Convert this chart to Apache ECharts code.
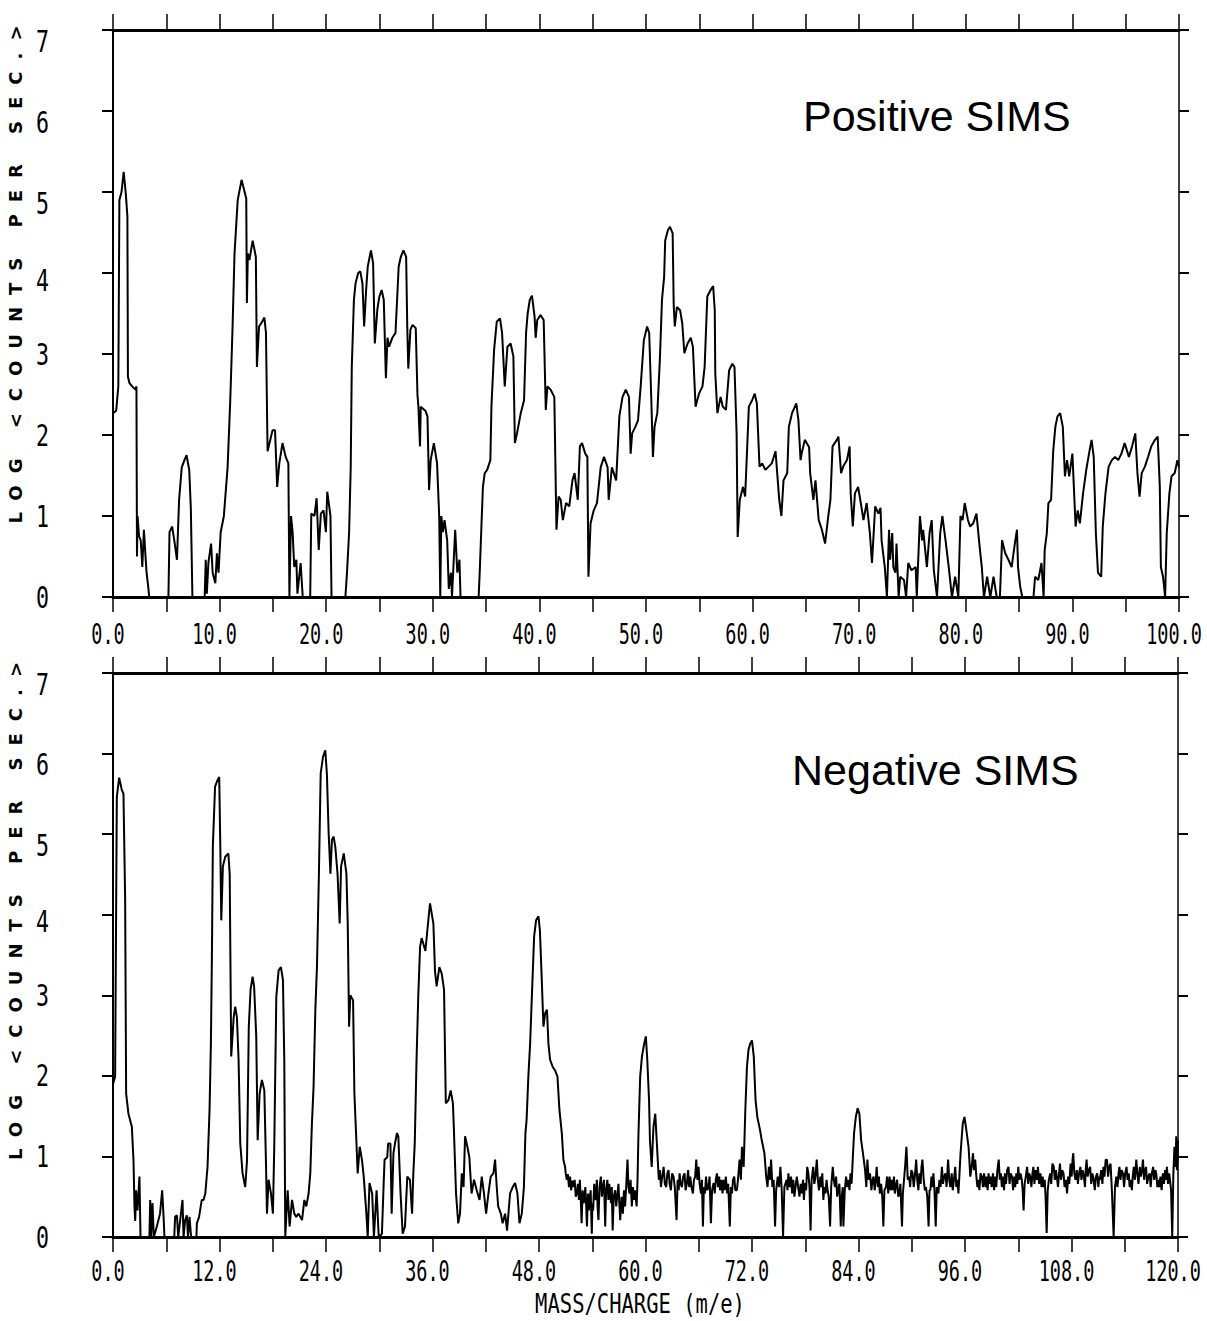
<!DOCTYPE html>
<html>
<head>
<meta charset="utf-8">
<title>Positive / Negative SIMS</title>
<script src="https://cdn.jsdelivr.net/npm/echarts@6/dist/echarts.min.js"></script>
<style>
  html, body { margin: 0; padding: 0; background: #fff; overflow: hidden; }
  #chart { width: 1207px; height: 1321px; }
  /* plotter-style spaced lettering for the vertical axis titles */
  #chart text[style*="Verdana"], #chart text[font-family*="Verdana"] { letter-spacing: 12px; }
</style>
</head>
<body>
<div id="chart"></div>
<script>
// Positive SIMS spectrum: [mass/charge, log10(counts per second)]
const positiveSpectrum = [
  [0,2.27],[0.3,2.3],[0.5,2.6],[0.6,4.9],[0.8,5.0],[1.0,5.25],[1.2,4.98],[1.35,4.7],[1.4,2.72],[1.55,2.64],
  [1.8,2.6],[2.1,2.56],[2.2,2.6],[2.25,0.5],[2.3,1.0],[2.45,0.75],[2.6,0.7],[2.75,0.37],[2.9,0.83],[3.05,0.5],
  [3.15,0.3],[3.3,0.13],[3.4,0],[5.2,0],[5.3,0.8],[5.55,0.87],[5.75,0.7],[6.0,0.46],[6.2,1.2],[6.45,1.6],
  [6.7,1.69],[6.9,1.75],[7.15,1.57],[7.3,1.1],[7.45,0],[8.6,0],[8.7,0.46],[8.8,0.04],[8.95,0.42],[9.2,0.66],
  [9.35,0.3],[9.6,0.17],[9.75,0.54],[9.9,0.3],[10.1,0.8],[10.4,1.0],[10.75,1.6],[11.0,2.43],[11.2,3.26],[11.4,4.24],
  [11.7,4.9],[12.06,5.15],[12.5,4.92],[12.56,3.63],[12.65,4.24],[12.8,4.16],[13.1,4.4],[13.4,4.2],[13.5,2.84],[13.7,3.34],
  [14.0,3.4],[14.2,3.45],[14.35,3.26],[14.5,1.8],[14.97,2.06],[15.2,2.06],[15.4,1.36],[15.6,1.65],[15.9,1.9],[16.2,1.73],
  [16.45,1.65],[16.55,0],[16.7,1.0],[16.85,0.8],[17.0,0.37],[17.2,0.46],[17.3,0.04],[17.6,0.42],[17.8,0],[18.5,0],
  [18.6,1.03],[18.9,1.0],[19.1,1.22],[19.3,0.58],[19.5,1.03],[19.75,1.07],[19.97,0.8],[20.1,1.3],[20.4,1.0],[20.5,0],
  [21.8,0],[21.95,0.3],[22.15,0.8],[22.3,1.6],[22.4,2.84],[22.6,3.67],[22.75,3.87],[23.0,4.0],[23.2,4.02],[23.4,3.87],
  [23.56,3.34],[23.75,3.8],[23.9,4.08],[24.2,4.28],[24.4,4.12],[24.56,3.13],[24.8,3.55],[24.97,3.7],[25.2,3.79],[25.4,3.67],
  [25.6,2.7],[25.75,3.2],[25.9,3.09],[26.2,3.2],[26.5,3.26],[26.8,4.08],[27.0,4.2],[27.25,4.28],[27.5,4.2],[27.6,3.36],
  [27.7,2.82],[27.9,3.3],[28.1,3.36],[28.4,3.32],[28.56,2.5],[28.65,2.35],[28.8,1.86],[28.87,2.35],[29.3,2.3],[29.5,2.23],
  [29.65,1.32],[29.8,1.69],[30.1,1.9],[30.4,1.65],[30.6,1.0],[30.7,0],[30.8,1.0],[30.95,0.8],[31.1,0.95],[31.35,0.7],
  [31.5,0.1],[31.7,0.3],[31.8,0],[32.1,0.83],[32.3,0.3],[32.5,0.46],[32.6,0],[34.3,0],[34.4,0.3],[34.56,0.87],
  [34.7,1.36],[34.87,1.53],[35.1,1.57],[35.4,1.69],[35.5,2.35],[35.75,3.05],[36.0,3.4],[36.3,3.44],[36.5,3.26],[36.75,2.6],
  [37.0,3.09],[37.3,3.13],[37.56,2.97],[37.7,1.9],[37.9,2.02],[38.25,2.27],[38.56,2.43],[38.75,3.26],[38.9,3.5],[39.1,3.67],
  [39.3,3.72],[39.55,3.46],[39.65,3.2],[39.8,3.42],[40.1,3.48],[40.4,3.42],[40.6,2.31],[40.75,2.6],[41.05,2.56],[41.4,2.47],
  [41.6,0.83],[41.8,1.24],[42.0,1.2],[42.2,0.95],[42.5,1.16],[42.8,1.12],[43.1,1.44],[43.3,1.53],[43.6,1.2],[43.8,1.86],
  [44.0,1.9],[44.3,1.77],[44.5,1.73],[44.6,0.25],[44.8,0.91],[45.1,1.07],[45.4,1.16],[45.75,1.6],[46.06,1.73],[46.4,1.6],
  [46.5,1.2],[46.8,1.6],[47.2,1.44],[47.5,2.23],[47.8,2.47],[48.1,2.56],[48.4,2.47],[48.56,1.77],[48.7,2.02],[49.0,2.1],
  [49.25,2.18],[49.5,2.6],[49.8,3.17],[50.1,3.34],[50.3,3.26],[50.5,2.43],[50.65,1.73],[50.8,2.1],[51.06,2.27],[51.3,2.93],
  [51.5,3.67],[51.7,3.95],[51.8,4.4],[52.06,4.53],[52.25,4.57],[52.5,4.49],[52.6,3.6],[52.7,3.34],[52.9,3.58],[53.2,3.54],
  [53.4,3.38],[53.6,3.01],[53.9,3.13],[54.2,3.2],[54.4,3.09],[54.65,2.35],[54.97,2.51],[55.3,2.6],[55.5,2.84],[55.75,3.71],
  [56.06,3.79],[56.3,3.84],[56.45,3.54],[56.5,2.76],[56.7,2.27],[57.0,2.47],[57.2,2.35],[57.5,2.31],[57.8,2.8],[58.1,2.88],
  [58.3,2.84],[58.5,2.02],[58.6,0.74],[58.8,1.2],[59.1,1.36],[59.3,1.24],[59.65,2.35],[59.96,2.43],[60.2,2.51],[60.4,2.39],
  [60.65,1.61],[60.9,1.65],[61.2,1.57],[61.5,1.61],[61.8,1.65],[62.15,1.8],[62.5,1.2],[62.7,1.0],[62.9,1.44],[63.25,1.53],
  [63.4,2.1],[63.7,2.27],[64.1,2.39],[64.3,2.18],[64.5,1.69],[64.6,1.77],[64.9,1.94],[65.3,1.85],[65.4,1.53],[65.7,1.2],
  [65.9,1.44],[66.2,0.95],[66.5,0.83],[66.8,0.66],[67.1,1.0],[67.3,1.2],[67.5,1.86],[67.9,1.94],[68.05,1.98],[68.3,1.53],
  [68.5,1.61],[68.85,1.69],[69.1,1.86],[69.2,1.28],[69.4,0.87],[69.6,1.28],[69.9,1.36],[70.2,1.12],[70.4,0.95],[70.7,1.16],
  [71.0,0.79],[71.2,0.42],[71.5,1.12],[71.8,1.03],[72.0,1.1],[72.1,0.7],[72.4,0.37],[72.6,0],[72.8,0.83],[72.9,0.46],
  [73.1,0.79],[73.2,0.37],[73.4,0.3],[73.5,0.66],[73.7,0],[73.85,0.25],[74.2,0.21],[74.4,0],[74.6,0.42],[74.9,0.33],
  [75.3,0.37],[75.4,0],[75.7,1.0],[75.9,0.7],[76.0,0.83],[76.35,0.37],[76.6,0.79],[76.8,0.95],[77.0,0.33],[77.3,0],
  [77.6,0.79],[77.8,1.0],[78.1,0.7],[78.4,0.37],[78.7,0],[79.0,0.25],[79.3,0],[79.5,1.0],[79.7,0.95],[79.9,1.16],
  [80.2,0.95],[80.4,0.87],[80.7,0.91],[81.0,1.03],[81.3,0.62],[81.5,0.37],[81.7,0],[82.0,0.25],[82.3,0],[82.6,0.25],
  [82.9,0],[83.2,0],[83.4,0.7],[83.7,0.54],[84.0,0.46],[84.3,0.37],[84.6,0.66],[84.8,0.83],[84.9,0.37],[85.1,0.13],
  [85.3,0],[86.35,0],[86.5,0.25],[86.8,0.21],[87.1,0.42],[87.3,0],[87.4,0.58],[87.6,0.79],[87.75,1.16],[88.0,1.2],
  [88.2,1.8],[88.4,2.1],[88.6,2.23],[88.85,2.27],[89.1,2.1],[89.3,1.49],[89.5,1.69],[89.7,1.49],[90.0,1.77],[90.3,0.87],
  [90.5,1.07],[90.7,0.91],[91.0,1.28],[91.3,1.57],[91.6,1.8],[91.8,1.94],[92.0,1.73],[92.2,0.79],[92.4,0.3],[92.7,0.25],
  [92.85,0.87],[93.1,1.28],[93.4,1.61],[93.7,1.69],[94.0,1.73],[94.3,1.69],[94.6,1.77],[94.9,1.9],[95.3,1.73],[95.6,1.86],
  [95.9,2.02],[96.1,1.53],[96.3,1.24],[96.5,1.53],[96.8,1.61],[97.1,1.73],[97.4,1.86],[97.75,1.94],[98.0,1.98],[98.2,1.36],
  [98.3,0.37],[98.5,0.25],[98.7,0],[98.85,0.79],[99.1,1.28],[99.3,1.49],[99.6,1.53],[99.85,1.69],[100,1.6]
];

// Negative SIMS spectrum: [mass/charge, log10(counts per second)]
const negativeSpectrum = [
  [0,1.9],[0.24,1.99],[0.43,5.46],[0.69,5.7],[0.99,5.55],[1.18,5.5],[1.37,4.18],[1.48,1.78],[1.74,1.53],[2.12,1.37],
  [2.31,0.95],[2.42,0.38],[2.5,0.2],[2.6,0.58],[2.76,0.33],[2.98,0.75],[3.1,0],[4.1,0],[4.19,0.46],[4.3,0],
  [4.45,0.42],[4.6,0],[4.94,0.13],[5.3,0.29],[5.54,0.58],[5.7,0.25],[5.8,0],[6.9,0],[7.0,0.25],[7.2,0.27],
  [7.35,0],[7.57,0.21],[7.83,0.46],[7.95,0],[8.13,0.21],[8.32,0.27],[8.45,0],[8.62,0.25],[8.8,0],[9.4,0],
  [9.45,0.17],[9.7,0.25],[10.0,0.46],[10.2,0.46],[10.4,0.54],[10.65,0.87],[10.88,1.58],[11.03,2.4],[11.14,3.44],[11.25,4.85],
  [11.5,5.59],[11.78,5.67],[11.97,5.71],[12.08,4.93],[12.2,3.93],[12.38,4.6],[12.65,4.72],[13.0,4.76],[13.15,4.5],[13.32,2.24],
  [13.6,2.73],[13.77,2.86],[13.96,2.73],[14.15,2.2],[14.34,1.16],[14.6,0.79],[14.9,0.62],[15.1,0.95],[15.3,2.61],[15.5,3.07],
  [15.73,3.23],[15.9,3.11],[16.14,2.49],[16.3,1.2],[16.52,1.78],[16.78,1.95],[17.05,1.82],[17.23,0.95],[17.35,0.29],[17.53,0.71],
  [17.8,0.54],[18.02,0.29],[18.17,1.12],[18.4,2.98],[18.66,3.31],[18.92,3.35],[19.15,3.19],[19.3,2.2],[19.41,0],[19.68,0.58],
  [19.9,0.13],[20.17,0.46],[20.43,0.29],[20.65,0.25],[20.9,0.29],[21.3,0.21],[21.56,0.46],[21.78,0.38],[22.04,0.54],[22.23,0.79],
  [22.4,1.37],[22.6,1.87],[22.8,2.82],[22.98,3.35],[23.2,4.5],[23.4,5.75],[23.66,5.96],[23.92,6.04],[24.1,5.75],[24.3,5.01],
  [24.5,4.51],[24.67,4.93],[24.86,4.97],[25.05,4.84],[25.3,4.51],[25.54,3.89],[25.7,4.6],[26.0,4.76],[26.3,4.51],[26.45,3.89],
  [26.6,2.61],[26.74,3.0],[27.05,2.94],[27.2,1.78],[27.4,1.25],[27.57,0.79],[27.8,1.12],[28.06,0.95],[28.25,0.75],[28.55,0.29],
  [28.7,0],[28.9,0.67],[29.2,0.54],[29.4,0],[29.7,0.58],[29.94,0],[30.3,0.04],[30.5,0.67],[30.6,0.96],[30.9,0.99],
  [31.0,1.16],[31.26,1.16],[31.4,0.29],[31.6,1.04],[31.77,1.16],[32.0,1.29],[32.15,1.25],[32.4,0.54],[32.64,0.04],[32.9,0.13],
  [33.16,0.75],[33.46,0.71],[33.7,0.29],[33.84,0.79],[34.0,1.16],[34.2,2.2],[34.4,3.0],[34.6,3.6],[34.78,3.71],[35.2,3.55],
  [35.5,3.9],[35.72,4.14],[36.1,3.89],[36.28,3.3],[36.47,3.11],[36.77,3.35],[37.04,3.27],[37.3,3.07],[37.5,1.66],[37.8,1.7],
  [38.05,1.82],[38.3,1.66],[38.4,1.37],[38.65,0.54],[38.9,0.17],[39.1,0.29],[39.3,0.79],[39.5,0.62],[39.67,1.25],[39.93,1.12],
  [40.15,0.99],[40.4,0.54],[40.68,0.71],[40.98,0.58],[41.3,0.46],[41.55,0.75],[41.8,0.54],[42.04,0.29],[42.3,0.54],[42.56,0.75],
  [42.86,0.79],[43.05,0.96],[43.24,0.62],[43.4,0.38],[43.7,0.29],[43.9,0.17],[44.18,0.29],[44.4,0.08],[44.74,0.54],[45.04,0.62],
  [45.3,0.67],[45.57,0.54],[45.8,0.17],[46.06,0.29],[46.3,0.62],[46.47,1.29],[46.6,1.45],[46.8,1.99],[47.0,2.4],[47.2,3.0],
  [47.45,3.73],[47.67,3.93],[47.94,3.98],[48.1,3.81],[48.3,3.23],[48.5,2.61],[48.7,2.78],[48.9,2.82],[49.06,2.4],[49.25,2.2],
  [49.55,2.11],[49.8,2.07],[50.08,1.99],[50.3,1.58],[50.57,1.29],[50.75,0.96],[50.94,0.87],
  [51.0,0.8],[51.13,0.71],[51.25,0.78],[51.38,0.62],[51.5,0.75],[51.62,0.58],[51.75,0.7],[51.9,0.62],[52.02,0.71],[52.14,0.5],
  [52.26,0.54],[52.38,0.66],[52.5,0.46],[52.6,0.71],[52.7,0.5],[52.8,0.17],[52.92,0.58],[53.02,0.42],[53.1,0.46],[53.22,0.62],
  [53.32,0.38],[53.4,0.13],[53.52,0.54],[53.62,0.33],[53.7,0.46],[53.82,0.58],[53.95,0.04],[54.02,0.42],[54.1,0.33],[54.22,0.66],
  [54.32,0.5],[54.4,0.46],[54.52,0.71],[54.6,0.38],[54.7,0.21],[54.82,0.62],[54.97,0.75],[55.08,0.5],[55.2,0.62],[55.32,0.71],
  [55.46,0.13],[55.56,0.58],[55.7,0.71],[55.82,0.46],[55.92,0.66],[56.0,0.54],[56.12,0.42],[56.2,0.62],[56.3,0.08],[56.42,0.5],
  [56.58,0.58],[56.7,0.38],[56.85,0.54],[56.95,0.66],[57.05,0.42],[57.15,0.21],[57.3,0.5],[57.45,0.29],[57.58,0.58],[57.7,0.38],
  [57.82,0.62],[57.97,0.96],[58.08,0.62],[58.2,0.54],[58.32,0.71],[58.46,0.38],[58.58,0.62],[58.7,0.46],[58.82,0.58],[59.0,0.38],
  [59.1,0.7],[59.2,1.25],[59.4,1.99],[59.6,2.24],[59.85,2.4],[60.04,2.49],[60.2,2.2],[60.4,1.7],[60.5,1.2],[60.7,0.87],
  [60.9,1.37],[61.1,1.53],[61.3,1.12],[61.5,0.71],[61.62,0.83],[61.74,0.62],[61.88,0.75],[62.04,0.87],[62.18,0.66],[62.34,0.62],
  [62.46,0.79],[62.6,0.83],[62.72,0.66],[62.86,0.58],[63.0,0.79],[63.16,0.75],[63.3,0.62],[63.5,0.21],[63.62,0.71],[63.74,0.58],
  [63.84,0.79],[63.96,0.66],[64.1,0.62],[64.25,0.75],[64.4,0.79],[64.52,0.58],[64.67,0.67],[64.8,0.83],[64.92,0.62],[65.04,0.75],
  [65.18,0.62],[65.34,0.54],[65.46,0.71],[65.6,0.75],[65.72,0.96],[65.85,0.71],[65.98,0.87],[66.1,0.66],[66.25,0.54],[66.36,0.71],
  [66.47,0.13],[66.58,0.62],[66.7,0.54],[66.82,0.75],[66.95,0.58],[67.1,0.62],[67.22,0.75],[67.37,0.17],[67.5,0.58],[67.67,0.67],
  [67.8,0.54],[67.92,0.71],[68.05,0.79],[68.18,0.62],[68.3,0.75],[68.4,0.58],[68.55,0.71],[68.68,0.54],[68.8,0.71],[68.92,0.58],
  [69.05,0.75],[69.2,0.54],[69.32,0.66],[69.5,0.13],[69.62,0.62],[69.74,0.54],[69.86,0.71],[70.0,0.75],[70.12,0.58],[70.3,0.58],
  [70.45,0.75],[70.6,0.96],[70.75,0.71],[70.87,1.12],[71.06,0.87],[71.25,1.58],[71.43,2.11],[71.6,2.32],[71.8,2.4],[72.0,2.44],
  [72.2,2.24],[72.4,1.7],[72.6,1.49],[72.9,1.33],[73.1,1.2],[73.4,1.04],[73.6,0.75],[73.75,0.62],[73.9,0.87],[74.02,0.71],
  [74.15,0.96],[74.3,0.62],[74.44,0.71],[74.6,0.13],[74.72,0.58],[74.9,0.75],[75.05,0.62],[75.2,0.87],[75.35,0.58],[75.5,0],
  [75.65,0.62],[75.9,0.71],[76.0,0.58],[76.1,0.79],[76.25,0.62],[76.4,0.75],[76.52,0.54],[76.65,0.71],[76.78,0.5],[76.9,0.62],
  [77.05,0.75],[77.2,0.62],[77.35,0.5],[77.48,0.66],[77.6,0.54],[77.75,0.71],[77.85,0.46],[77.97,0.67],[78.1,0.58],[78.22,0.87],
  [78.35,0.79],[78.48,0.62],[78.6,0.08],[78.72,0.71],[78.9,0.87],[79.02,0.66],[79.15,0.75],[79.3,0.96],[79.42,0.71],[79.55,0.58],
  [79.7,0.75],[79.82,0.62],[79.92,0.79],[80.04,0.46],[80.15,0.62],[80.28,0.54],[80.4,0.71],[80.52,0.58],[80.65,0.5],[80.8,0.13],
  [80.92,0.62],[81.1,0.87],[81.22,0.71],[81.35,0.62],[81.48,0.75],[81.6,0.5],[81.7,0.58],[81.85,0.66],[82.0,0.13],[82.12,0.5],
  [82.22,0.62],[82.3,0.13],[82.45,0.58],[82.6,0.75],[82.72,0.62],[82.86,0.71],[82.98,0.58],[83.1,0.79],[83.22,0.66],[83.35,0.96],
  [83.5,1.29],[83.7,1.49],[83.9,1.6],[84.1,1.53],[84.3,1.2],[84.5,1.04],[84.74,0.83],[84.88,0.62],[85.0,0.96],[85.15,0.71],
  [85.3,0.79],[85.45,0.58],[85.58,0.71],[85.7,0.75],[85.82,0.58],[85.95,0.71],[86.05,0.87],[86.18,0.62],[86.3,0.75],[86.4,0.54],
  [86.55,0.66],[86.68,0.5],[86.8,0.13],[86.92,0.58],[87.1,0.62],[87.22,0.75],[87.35,0.54],[87.5,0.75],[87.62,0.58],[87.75,0.71],
  [87.86,0.58],[88.0,0.75],[88.1,0.54],[88.2,0.62],[88.35,0.71],[88.48,0.5],[88.6,0.54],[88.72,0.66],[88.9,0.13],[89.0,0.54],
  [89.1,0.67],[89.25,0.87],[89.4,1.12],[89.55,0.71],[89.7,0.75],[89.82,0.62],[89.95,0.83],[90.1,0.79],[90.22,0.62],[90.35,0.75],
  [90.5,0.96],[90.62,0.71],[90.75,0.58],[90.86,0.79],[91.0,0.66],[91.1,0.87],[91.2,0.96],[91.35,0.71],[91.48,0.58],[91.6,0.62],
  [91.75,0.5],[91.9,0.13],[92.0,0.58],[92.1,0.58],[92.22,0.75],[92.32,0.62],[92.44,0.79],[92.56,0.58],[92.7,0.13],[92.82,0.62],
  [93.0,0.54],[93.12,0.71],[93.25,0.62],[93.4,0.87],[93.52,0.66],[93.65,0.75],[93.8,0.79],[93.92,0.62],[94.1,0.96],[94.22,0.71],
  [94.35,0.62],[94.5,0.79],[94.62,0.58],[94.75,0.71],[94.9,0.87],[95.02,0.62],[95.15,0.71],[95.26,0.54],[95.38,0.79],[95.5,1.04],
  [95.75,1.41],[95.94,1.49],[96.1,1.37],[96.4,1.12],[96.6,0.75],[96.75,0.87],[96.9,1.04],[97.02,0.83],[97.15,0.96],[97.28,0.75],
  [97.4,0.62],[97.5,0.71],[97.62,0.58],[97.75,0.79],[97.9,0.75],[98.02,0.62],[98.15,0.79],[98.3,0.62],[98.42,0.75],[98.55,0.58],
  [98.65,0.79],[98.78,0.66],[98.9,0.75],[99.0,0.62],[99.15,0.79],[99.28,0.58],[99.4,0.75],[99.52,0.62],[99.65,0.83],[99.8,0.96],
  [99.92,0.71],[100.05,0.79],[100.15,0.62],[100.28,0.75],[100.4,0.58],[100.5,0.79],[100.62,0.66],[100.75,0.83],[100.9,0.87],[101.02,0.66],
  [101.15,0.79],[101.3,0.75],[101.42,0.58],[101.55,0.75],[101.65,0.62],[101.78,0.79],[101.9,0.66],[102.0,0.87],[102.12,0.71],[102.25,0.79],
  [102.4,0.71],[102.5,0.58],[102.6,0.33],[102.72,0.66],[102.85,0.75],[103.0,0.87],[103.12,0.66],[103.22,0.79],[103.35,0.75],[103.48,0.62],
  [103.6,0.79],[103.7,0.87],[103.82,0.66],[103.95,0.83],[104.1,0.71],[104.22,0.87],[104.35,0.66],[104.5,0.79],[104.62,0.62],[104.75,0.75],
  [104.85,0.62],[104.98,0.71],[105.08,0.5],[105.2,0.05],[105.32,0.58],[105.45,0.71],[105.6,0.79],[105.72,0.66],[105.85,0.91],[106.0,0.87],
  [106.12,0.71],[106.25,0.83],[106.35,0.75],[106.48,0.62],[106.6,0.79],[106.7,0.91],[106.82,0.71],[106.95,0.83],[107.1,0.79],[107.22,0.62],
  [107.35,0.71],[107.5,0.54],[107.62,0.75],[107.75,0.66],[107.9,0.91],[108.02,0.75],[108.12,0.96],[108.2,1.04],[108.32,0.79],[108.45,0.71],
  [108.6,0.83],[108.72,0.66],[108.85,0.79],[109.0,0.87],[109.12,0.71],[109.25,0.83],[109.4,0.75],[109.52,0.62],[109.6,0.83],[109.7,0.96],
  [109.82,0.75],[109.95,0.83],[110.1,0.87],[110.22,0.66],[110.35,0.79],[110.5,0.71],[110.62,0.58],[110.75,0.75],[110.9,0.79],[111.02,0.62],
  [111.12,0.75],[111.2,0.71],[111.35,0.83],[111.48,0.66],[111.6,0.87],[111.72,0.75],[111.85,0.96],[112.0,0.96],[112.12,0.75],[112.25,0.87],
  [112.4,0.91],[112.55,0.58],[112.75,0],[112.9,0.62],[113.05,0.75],[113.18,0.62],[113.3,0.79],[113.4,0.87],[113.52,0.71],[113.65,0.83],
  [113.8,0.79],[113.92,0.62],[114.05,0.79],[114.2,0.87],[114.32,0.71],[114.45,0.79],[114.55,0.62],[114.68,0.71],[114.8,0.58],[114.9,0.75],
  [115.02,0.87],[115.15,0.71],[115.3,0.96],[115.42,0.79],[115.55,0.66],[115.7,0.87],[115.82,0.75],[115.95,0.83],[116.05,0.96],[116.18,0.71],
  [116.3,0.83],[116.4,0.87],[116.52,0.66],[116.65,0.75],[116.8,0.79],[116.92,0.62],[117.05,0.79],[117.2,0.87],[117.32,0.71],[117.45,0.83],
  [117.55,0.79],[117.68,0.62],[117.8,0.71],[117.9,0.62],[118.02,0.75],[118.15,0.58],[118.3,0.79],[118.42,0.66],[118.55,0.83],[118.65,0.71],
  [118.75,0.87],[118.88,0.66],[119.0,0.79],[119.1,0.71],[119.22,0.58],[119.35,0],[119.48,0.79],[119.6,1.12],[119.72,0.87],[119.8,1.25],
  [119.88,0.83],[119.95,0.96],[120,1.2]
];

// Tick labels
const positiveMassLabels = ['0.0','10.0','20.0','30.0','40.0','50.0','60.0','70.0','80.0','90.0','100.0'];
const negativeMassLabels = ['0.0','12.0','24.0','36.0','48.0','60.0','72.0','84.0','96.0','108.0','120.0'];
const logLabels = ['0','1','2','3','4','5','6','7'];

const yTitle = 'LOG <COUNTS PER SEC.>';
const xTitle = 'MASS/CHARGE (m/e)';
const panelTitles = ['Positive SIMS', 'Negative SIMS'];

const INK = '#000';
const MONO = 'DejaVu Sans Mono';
const MONO_ADVANCE = 0.602;   // advance width of DejaVu Sans Mono, in em
const TICK_FONT = 18.5;       // laid-out size of the tick labels
const TITLE_FONT = 20.5;      // laid-out size of the mass axis title

const chart = echarts.init(document.getElementById('chart'), null, { renderer: 'svg' });

function bottomAxis(grid, max, step, labels, margin, extra) {
  return Object.assign({
    gridIndex: grid, type: 'value', position: 'bottom', min: 0, max: max, interval: step,
    axisLine: { show: true, onZero: false, lineStyle: { color: INK, width: 3 } },
    axisTick: { show: true, length: 15, lineStyle: { color: INK, width: 1.5 } },
    minorTick: { show: true, splitNumber: 2, length: 15, lineStyle: { color: INK, width: 1.5 } },
    splitLine: { show: false },
    axisLabel: {
      color: INK, fontFamily: MONO, fontSize: TICK_FONT, margin: margin, padding: [0, 10, 0, 0],
      formatter: v => labels[Math.round(v / step)]
    }
  }, extra || {});
}

function topAxis(grid, max, step) {
  return {
    gridIndex: grid, type: 'value', position: 'top', min: 0, max: max, interval: step,
    axisLine: { show: true, onZero: false, lineStyle: { color: INK, width: 3 } },
    axisTick: { show: true, length: 16, lineStyle: { color: INK, width: 1.5 } },
    minorTick: { show: true, splitNumber: 2, length: 16, lineStyle: { color: INK, width: 1.5 } },
    splitLine: { show: false },
    axisLabel: { show: false }
  };
}

function leftAxis(grid, namePad) {
  return {
    gridIndex: grid, type: 'value', position: 'left', min: 0, max: 7, interval: 1,
    name: yTitle, nameLocation: 'middle', nameGap: 86,
    nameTextStyle: { color: INK, fontFamily: 'Verdana, DejaVu Sans', fontWeight: 'bold', fontSize: 18,
                     padding: [0, 0, 0, namePad] },
    axisLine: { show: true, onZero: false, lineStyle: { color: INK, width: 2 } },
    axisTick: { show: true, length: 11, lineStyle: { color: INK, width: 2 } },
    splitLine: { show: false },
    axisLabel: {
      color: INK, fontFamily: MONO, fontSize: 22, margin: 64,
      formatter: v => {
        const t = logLabels[v];
        if (v >= 5) return '{lo|' + t + '}';
        if (v === 4) return '{mid|' + t + '}';
        return t;
      },
      rich: {
        lo: { color: INK, fontFamily: MONO, fontSize: 22, padding: [22, 0, 0, 0] },
        mid: { color: INK, fontFamily: MONO, fontSize: 22, padding: [14, 0, 0, 0] }
      }
    }
  };
}

function rightAxis(grid) {
  return {
    gridIndex: grid, type: 'value', position: 'right', min: 0, max: 7, interval: 1,
    axisLine: { show: true, onZero: false, lineStyle: { color: INK, width: 1.5 } },
    axisTick: { show: true, length: 10, lineStyle: { color: INK, width: 2 } },
    splitLine: { show: false },
    axisLabel: { show: false }
  };
}

const option = {
  backgroundColor: '#fff',
  animation: false,
  grid: [
    { left: 113, top: 30, width: 1066, height: 567, containLabel: false, outerBoundsMode: 'none' },
    { left: 113, top: 673, width: 1065, height: 564, containLabel: false, outerBoundsMode: 'none' }
  ],
  xAxis: [
    bottomAxis(0, 100, 10, positiveMassLabels, 28),
    topAxis(0, 100, 10),
    bottomAxis(1, 120, 12, negativeMassLabels, 25, {
      name: xTitle, nameLocation: 'middle', nameGap: 56,
      nameTextStyle: { color: INK, fontFamily: MONO, fontSize: TITLE_FONT, padding: [0, 11, 0, 0] }
    }),
    topAxis(1, 120, 12)
  ],
  yAxis: [
    leftAxis(0, 90),
    rightAxis(0),
    leftAxis(1, 100),
    rightAxis(1)
  ],
  series: [
    {
      name: panelTitles[0], type: 'line', xAxisIndex: 0, yAxisIndex: 0,
      data: positiveSpectrum, symbol: 'none', clip: true,
      lineStyle: { color: INK, width: 2 }
    },
    {
      name: panelTitles[1], type: 'line', xAxisIndex: 2, yAxisIndex: 2,
      data: negativeSpectrum, symbol: 'none', clip: true,
      lineStyle: { color: INK, width: 2 }
    }
  ],
  graphic: [
    {
      type: 'text', x: 803, y: 116,
      style: { text: panelTitles[0], fill: INK, fontFamily: 'Liberation Sans', fontSize: 43,
               align: 'left', verticalAlign: 'middle' }
    },
    {
      type: 'text', x: 792, y: 770,
      style: { text: panelTitles[1], fill: INK, fontFamily: 'Liberation Sans', fontSize: 43,
               align: 'left', verticalAlign: 'middle' }
    }
  ]
};

// Tall, narrow plotter lettering: glyphs are drawn large but squeezed back
// to the width that the axis layout reserved for each label.
function condenseMono() {
  document.querySelectorAll('#chart svg text').forEach(t => {
    const s = (t.getAttribute('style') || '') + ' ' + (t.getAttribute('font-family') || '');
    if (s.indexOf(MONO) < 0) return;
    const str = t.textContent;
    if (!str) return;
    let size, width;
    if (str === xTitle) { size = 26; width = str.length * MONO_ADVANCE * TITLE_FONT; }
    else if (str.length === 1) { size = 30; width = 13; }
    else { size = 28; width = str.length * MONO_ADVANCE * TICK_FONT; }
    t.style.setProperty('font-size', size + 'px', 'important');
    t.setAttribute('textLength', width.toFixed(1));
    t.setAttribute('lengthAdjust', 'spacingAndGlyphs');
  });
}

chart.setOption(option);
condenseMono();
chart.on('finished', condenseMono);
</script>
</body>
</html>
